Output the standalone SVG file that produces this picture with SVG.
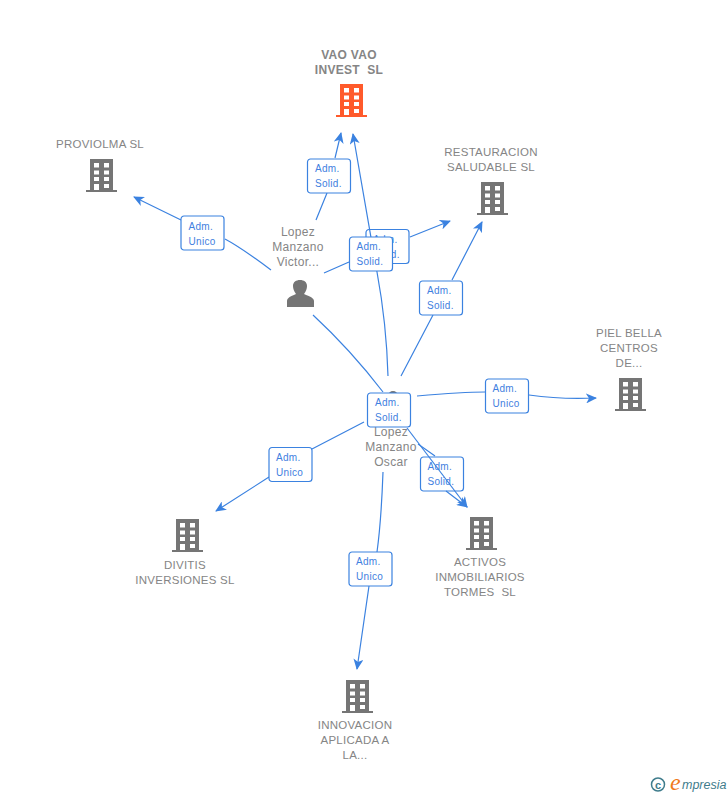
<svg xmlns="http://www.w3.org/2000/svg" width="728" height="795" viewBox="0 0 728 795">
<style>
text{white-space:pre}
.l{font:500 11.5px "Liberation Sans",Arial,sans-serif;fill:#858585;text-anchor:middle;letter-spacing:.25px}
.t{font-weight:700;font-size:12px;letter-spacing:.3px}
.p{font:12px "Liberation Sans",Arial,sans-serif;fill:#858585;text-anchor:middle;letter-spacing:.3px}
.b{font:10px "Liberation Sans",Arial,sans-serif;fill:#3f80e0;letter-spacing:.3px}
.e{fill:none;stroke:#3b82e0;stroke-width:1.2}
.r{fill:#fff;stroke:#3b82e0;stroke-width:1.2}
</style>
<defs>
<marker id="a" markerWidth="12" markerHeight="10" refX="10" refY="5" orient="auto" markerUnits="userSpaceOnUse"><path d="M0 0L11 5L0 10L3 5Z" fill="#3b82e0"/></marker>
<g id="bld"><path fill-rule="evenodd" d="M4 0H27V31H31V33H0V31H4ZM8 4V8.500H13V4ZM18 4V8.500H23V4ZM8 11.500V15.500H13V11.500ZM18 11.500V15.500H23V11.500ZM8 18V22H13V18ZM18 18V22H23V18ZM8 25V31H13V25ZM18 25V29H23V25Z"/></g>
<g id="lab"><rect class="r" width="43" height="34" rx="3"/></g>
</defs>
<g id="b3"><use href="#lab" x="366" y="229.500"/><text class="b" x="373" y="243">Adm.</text><text class="b" x="373" y="258">Solid.</text></g>
<g id="b8"><use href="#lab" x="420.500" y="457"/><text class="b" x="427.500" y="470">Adm.</text><text class="b" x="427.500" y="485">Solid.</text></g>
<g id="connectors">
<path class="e" d="M316 220L327 193M335 158L341 133" marker-end="url(#a)"/>
<path class="e" d="M271 270C255 258 240 247 225 239M181 220L134 197" marker-end="url(#a)"/>
<path class="e" d="M324 273L349 262M410 237L450 221" marker-end="url(#a)"/>
<path class="e" d="M388 376C387 340 384 310 377 272L353 134" marker-end="url(#a)"/>
<path class="e" d="M401 376L433 315M452 280L482 222" marker-end="url(#a)"/>
<path class="e" d="M313 315C340 340 360 362 383 392"/>
<path class="e" d="M417 396C440 394 465 392 485 392M529 395C550 398 575 399 596 398" marker-end="url(#a)"/>
<path class="e" d="M364 422L312 449M269 477L216 511" marker-end="url(#a)"/>
<path class="e" d="M407 428L467 507" marker-end="url(#a)"/>
<path class="e" d="M418 444L435 456M446 491L467 507" marker-end="url(#a)"/>
<path class="e" d="M383 472C382 500 380 530 377 552M369 586L357 669" marker-end="url(#a)"/>
</g>
<g id="n-vao"><use href="#bld" x="336" y="84" fill="#ff5a2b"/><text class="l t" x="349" y="59">VAO VAO</text><text class="l t" x="349" y="74">INVEST  SL</text></g>
<g id="n-proviolma"><use href="#bld" x="86" y="159" fill="#757575"/><text class="l" x="100" y="148">PROVIOLMA SL</text></g>
<g id="n-rest"><use href="#bld" x="477" y="182" fill="#757575"/><text class="l" x="491" y="156">RESTAURACION</text><text class="l" x="491" y="171">SALUDABLE SL</text></g>
<g id="n-piel"><use href="#bld" x="615" y="378" fill="#757575"/><text class="l" x="629" y="337">PIEL BELLA</text><text class="l" x="629" y="352">CENTROS</text><text class="l" x="629" y="367">DE...</text></g>
<g id="n-activos"><use href="#bld" x="466" y="517" fill="#757575"/><text class="l" x="480" y="566">ACTIVOS</text><text class="l" x="480" y="581">INMOBILIARIOS</text><text class="l" x="480" y="596">TORMES  SL</text></g>
<g id="n-divitis"><use href="#bld" x="172" y="519" fill="#757575"/><text class="l" x="185" y="569">DIVITIS</text><text class="l" x="185" y="584">INVERSIONES SL</text></g>
<g id="n-innov"><use href="#bld" x="342" y="680" fill="#757575"/><text class="l" x="355" y="729">INNOVACION</text><text class="l" x="355" y="744">APLICADA A</text><text class="l" x="355" y="759">LA...</text></g>
<g id="n-victor"><path fill="#757575" d="M287 307V301C287 298 290 296.500 296 294C294 291 293 289 293 286C293 282 296 280 300 280C304 280 307 282 307 286C307 289 306 291 304 294C310 296.500 314 298 314 301V307Z"/><text class="p" x="298" y="236">Lopez</text><text class="p" x="298" y="251">Manzano</text><text class="p" x="298" y="266">Victor...</text></g>
<g id="n-oscar"><circle cx="393" cy="396" r="5" fill="#757575"/><text class="p" x="391" y="436">Lopez</text><text class="p" x="391" y="451">Manzano</text><text class="p" x="391" y="466">Oscar</text></g>
<g id="b1"><use href="#lab" x="307.500" y="159"/><text class="b" x="315" y="172">Adm.</text><text class="b" x="315" y="187">Solid.</text></g>
<g id="b2"><use href="#lab" x="181" y="216"/><text class="b" x="188.500" y="230">Adm.</text><text class="b" x="188.500" y="245">Unico</text></g>
<g id="b4"><use href="#lab" x="349.500" y="237"/><text class="b" x="356.500" y="250">Adm.</text><text class="b" x="356.500" y="265">Solid.</text></g>
<g id="b5"><use href="#lab" x="419.500" y="281"/><text class="b" x="427" y="294">Adm.</text><text class="b" x="427" y="309">Solid.</text></g>
<g id="b6"><use href="#lab" x="367.500" y="393"/><text class="b" x="375" y="406">Adm.</text><text class="b" x="375" y="421">Solid.</text></g>
<g id="b7"><use href="#lab" x="485.500" y="379"/><text class="b" x="492.500" y="392">Adm.</text><text class="b" x="492.500" y="407">Unico</text></g>
<g id="b9"><use href="#lab" x="269" y="447.500"/><text class="b" x="276" y="461">Adm.</text><text class="b" x="276" y="476">Unico</text></g>
<g id="b10"><use href="#lab" x="349" y="552"/><text class="b" x="356" y="565">Adm.</text><text class="b" x="356" y="580">Unico</text></g>
<g id="logo"><circle cx="658" cy="784.500" r="6.500" fill="none" stroke="#3f7c8c" stroke-width="1.500"/><text x="658" y="788.500" font-family="Liberation Sans,sans-serif" font-size="11" font-weight="700" fill="#3f7c8c" text-anchor="middle">c</text><text x="670" y="790" font-family="Liberation Serif,serif" font-style="italic" font-size="24" fill="#f07a1a">e</text><text x="682" y="789" font-family="Liberation Sans,sans-serif" font-style="italic" font-size="12.500" fill="#3f7c8c">mpresia</text></g>
</svg>
